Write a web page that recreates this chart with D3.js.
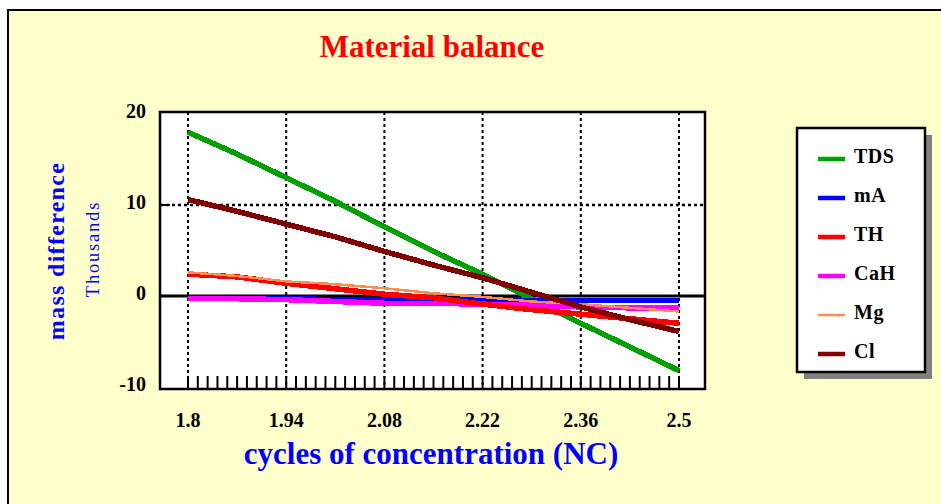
<!DOCTYPE html>
<html>
<head>
<meta charset="utf-8">
<title>Material balance</title>
<script src="https://d3js.org/d3.v7.min.js"></script>
<style>
  body { margin: 0; background: #fff; }
  svg { display: block; font-family: "Liberation Serif", "Times New Roman", serif; }
</style>
</head>
<body>
<svg width="941" height="504"></svg>
<script>
// cycles of concentration (NC)
const nc = [1.8, 1.87, 1.94, 2.01, 2.08, 2.15, 2.22, 2.29, 2.36, 2.43, 2.5];

// mass difference, thousands
const tds = [18.0, 15.6, 13.0, 10.4, 7.6, 4.9, 2.4, -0.3, -3.0, -5.6, -8.2];
const mA  = [-0.3, -0.3, -0.3, -0.35, -0.35, -0.4, -0.4, -0.45, -0.5, -0.5, -0.5];
const th  = [2.4, 2.1, 1.4, 0.8, 0.2, -0.2, -0.9, -1.5, -2.0, -2.5, -3.0];
const caH = [-0.3, -0.3, -0.4, -0.6, -0.8, -0.8, -0.9, -1.0, -1.2, -1.3, -1.3];
const mg  = [2.6, 2.2, 1.6, 1.3, 0.85, 0.3, -0.1, -0.6, -0.9, -1.3, -1.7];
const cl  = [10.6, 9.3, 7.9, 6.5, 4.9, 3.4, 2.0, 0.4, -1.2, -2.6, -3.9];

const seriesNames = ["TDS", "mA", "TH", "CaH", "Mg", "Cl"];
const seriesValues = [tds, mA, th, caH, mg, cl];

const xTicks = [1.8, 1.94, 2.08, 2.22, 2.36, 2.5];
const yTicks = [-10, 0, 10, 20];

const colors = {TDS: "#00a000", mA: "#0000ff", TH: "#ff0000", CaH: "#ff00ff", Mg: "#ff8c50", Cl: "#800000"};
const widths = {TDS: 5.5, mA: 5, TH: 5.5, CaH: 5.5, Mg: 2.5, Cl: 5.5};

const svg = d3.select("svg");

// yellow page with black border (top and left visible)
svg.append("rect")
    .attr("x", 8).attr("y", 10)
    .attr("width", 960).attr("height", 520)
    .attr("fill", "#ffffcc")
    .attr("stroke", "#000").attr("stroke-width", 2);

// title
svg.append("text")
    .attr("x", 432).attr("y", 57)
    .attr("text-anchor", "middle")
    .attr("fill", "#ff0000")
    .style("font-size", "31px").style("font-weight", "bold")
    .text("Material balance");

const plot = {left: 160, top: 112, right: 705, bottom: 389};

const x = d3.scaleLinear().domain([1.8, 2.5]).range([188, 679]);
const y = d3.scaleLinear().domain([-10, 20]).range([387, 114]);

// plot background
svg.append("rect")
    .attr("x", plot.left).attr("y", plot.top)
    .attr("width", plot.right - plot.left).attr("height", plot.bottom - plot.top)
    .attr("fill", "#fff");

// vertical dotted grid
svg.append("g").selectAll("line").data(xTicks).join("line")
    .attr("x1", d => x(d)).attr("x2", d => x(d))
    .attr("y1", plot.top).attr("y2", plot.bottom)
    .attr("stroke", "#000").attr("stroke-width", 2)
    .attr("stroke-dasharray", "3,3");

// horizontal grid at 10 (dotted) and zero line (solid)
svg.append("line")
    .attr("x1", plot.left).attr("x2", plot.right)
    .attr("y1", y(10)).attr("y2", y(10))
    .attr("stroke", "#000").attr("stroke-width", 2.5)
    .attr("stroke-dasharray", "3,3");
svg.append("line")
    .attr("x1", plot.left).attr("x2", plot.right)
    .attr("y1", y(0)).attr("y2", y(0))
    .attr("stroke", "#000").attr("stroke-width", 3);

// small ticks on the left side
svg.append("g").selectAll("line").data([0, 10]).join("line")
    .attr("x1", plot.left).attr("x2", plot.left + 10)
    .attr("y1", d => y(d)).attr("y2", d => y(d))
    .attr("stroke", "#000").attr("stroke-width", 2);

// minor ticks along the bottom
const minor = d3.range(51).map(i => 1.8 + i * 0.014);
svg.append("g").selectAll("line").data(minor).join("line")
    .attr("x1", d => x(d)).attr("x2", d => x(d))
    .attr("y1", plot.bottom - 13).attr("y2", plot.bottom)
    .attr("stroke", "#000").attr("stroke-width", 2);

// series lines
const line = d3.line()
    .x((d, i) => x(nc[i]))
    .y(d => y(d));

const drawOrder = ["TDS", "mA", "CaH", "TH", "Mg", "Cl"];
drawOrder.forEach(name => {
    const vals = seriesValues[seriesNames.indexOf(name)];
    svg.append("path")
        .datum(vals)
        .attr("d", line)
        .attr("fill", "none")
        .attr("stroke", colors[name])
        .attr("stroke-width", widths[name])
        .style("shape-rendering", "crispEdges");
});

// frame
svg.append("rect")
    .attr("x", plot.left).attr("y", plot.top)
    .attr("width", plot.right - plot.left).attr("height", plot.bottom - plot.top)
    .attr("fill", "none")
    .attr("stroke", "#000").attr("stroke-width", 2.5);

// y tick labels
svg.append("g").selectAll("text").data(yTicks).join("text")
    .attr("x", 146).attr("y", d => y(d) - 1)
    .attr("text-anchor", "end")
    .attr("dominant-baseline", "middle")
    .style("font-size", "20px").style("font-weight", "bold")
    .text(d => d);

// x tick labels
svg.append("g").selectAll("text").data(xTicks).join("text")
    .attr("x", d => x(d)).attr("y", 427)
    .attr("text-anchor", "middle")
    .style("font-size", "20px").style("font-weight", "bold")
    .text(d => d);

// axis titles
svg.append("text")
    .attr("x", 431).attr("y", 464)
    .attr("text-anchor", "middle")
    .attr("fill", "#0000ff")
    .style("font-size", "31px").style("font-weight", "bold")
    .text("cycles of concentration (NC)");

svg.append("text")
    .attr("transform", "translate(64,251) rotate(-90)")
    .attr("text-anchor", "middle")
    .attr("fill", "#0000ff")
    .style("font-size", "24px").style("font-weight", "bold")
    .style("letter-spacing", "1.3px")
    .text("mass difference");

svg.append("text")
    .attr("transform", "translate(99,249) rotate(-90)")
    .attr("text-anchor", "middle")
    .attr("fill", "#0000ff")
    .style("font-size", "18.5px")
    .style("letter-spacing", "1.8px")
    .text("Thousands");

// legend with shadow
const lg = {x: 797, y: 128, w: 128, h: 244};
svg.append("rect")
    .attr("x", lg.x + 7).attr("y", lg.y + 7)
    .attr("width", lg.w).attr("height", lg.h)
    .attr("fill", "#808080");
svg.append("rect")
    .attr("x", lg.x).attr("y", lg.y)
    .attr("width", lg.w).attr("height", lg.h)
    .attr("fill", "#fff")
    .attr("stroke", "#000").attr("stroke-width", 2.5);

const rowY = d3.scalePoint().domain(seriesNames).range([159, 354]);
const item = svg.append("g").selectAll("g").data(seriesNames).join("g")
    .attr("transform", d => `translate(0,${rowY(d)})`);
item.append("line")
    .attr("x1", 818).attr("x2", 845)
    .attr("stroke", d => colors[d])
    .attr("stroke-width", d => d === "Mg" ? 2.5 : 4.5);
item.append("text")
    .attr("x", 854).attr("y", -1)
    .attr("dominant-baseline", "middle")
    .style("font-size", "20px").style("font-weight", "bold")
    .style("letter-spacing", "0.5px")
    .text(d => d);
</script>
</body>
</html>
